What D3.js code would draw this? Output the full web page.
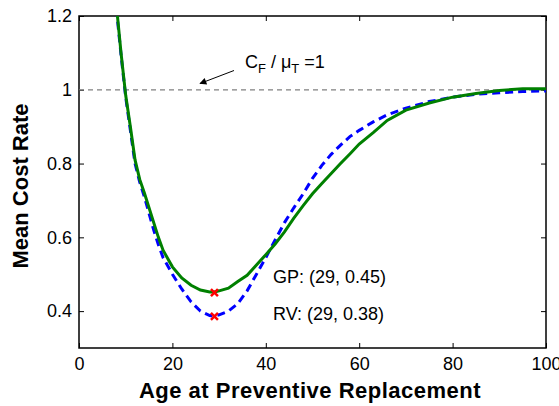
<!DOCTYPE html>
<html>
<head>
<meta charset="utf-8">
<script src="https://cdn.jsdelivr.net/npm/d3@7"></script>
<style>
    body { margin: 0; background: #fff; }
    text { font-family: "Liberation Sans", Arial, sans-serif; fill: #000; }
</style>
</head>
<body>
<div id="chart"></div>
<script>
// ages at which the mean cost rate was read
var ages = [8, 9, 10, 11, 12, 13, 14, 16, 17, 18, 20, 22, 24, 26, 28, 29, 30, 32, 34, 36, 38, 40, 42, 44, 46, 48, 50, 52, 54, 56, 58, 60, 63, 66, 70, 75, 80, 85, 90, 95, 100];

var gpValues = [1.23, 1.10, 0.985, 0.90, 0.81, 0.757, 0.72, 0.64, 0.60, 0.565, 0.52, 0.49, 0.47, 0.457, 0.452, 0.452, 0.455, 0.462, 0.48, 0.497, 0.525, 0.553, 0.582, 0.615, 0.652, 0.686, 0.718, 0.746, 0.773, 0.80, 0.826, 0.853, 0.884, 0.917, 0.945, 0.964, 0.98, 0.99, 0.998, 1.003, 1.003];

var rvValues = [1.22, 1.095, 0.98, 0.89, 0.80, 0.75, 0.71, 0.62, 0.58, 0.545, 0.50, 0.46, 0.425, 0.40, 0.388, 0.386, 0.39, 0.40, 0.42, 0.455, 0.50, 0.545, 0.593, 0.64, 0.68, 0.718, 0.76, 0.795, 0.825, 0.85, 0.873, 0.89, 0.913, 0.932, 0.95, 0.968, 0.98, 0.988, 0.992, 0.995, 0.997];

var optima = [
    { name: "GP", age: 29, value: 0.45, label: "GP: (29, 0.45)" },
    { name: "RV", age: 29, value: 0.386, label: "RV: (29, 0.38)" }
];

var xTicks = [0, 20, 40, 60, 80, 100];
var yTicks = [0.4, 0.6, 0.8, 1, 1.2];
var refLevel = 1;

var W = 559, H = 406;
var margin = { top: 16, right: 13, bottom: 58, left: 79 };
var width = W - margin.left - margin.right;
var height = H - margin.top - margin.bottom;

var svg = d3.select("#chart").append("svg")
    .attr("width", W)
    .attr("height", H)
    .append("g")
    .attr("transform", "translate(" + margin.left + "," + margin.top + ")");

var xScale = d3.scaleLinear().domain([0, 100]).range([0, width]);
var yScale = d3.scaleLinear().domain([0.3, 1.2]).range([height, 0]);

svg.append("defs").append("clipPath")
    .attr("id", "plotClip")
    .append("rect")
    .attr("width", width)
    .attr("height", height);

// axes with ticks pointing in, box on all sides
function fmt(d) { return d3.format("")(+d.toFixed(1)); }

svg.append("g")
    .attr("transform", "translate(0," + height + ")")
    .call(d3.axisBottom(xScale).tickValues(xTicks).tickSizeInner(-5).tickSizeOuter(0).tickPadding(9))
    .call(g => g.select(".domain").remove());

svg.append("g")
    .call(d3.axisTop(xScale).tickValues(xTicks).tickSizeInner(-5).tickSizeOuter(0).tickFormat(""))
    .call(g => g.select(".domain").remove());

svg.append("g")
    .call(d3.axisLeft(yScale).tickValues(yTicks).tickSizeInner(-5).tickSizeOuter(0).tickPadding(7).tickFormat(fmt))
    .call(g => g.select(".domain").remove());

svg.append("g")
    .attr("transform", "translate(" + width + ",0)")
    .call(d3.axisRight(yScale).tickValues(yTicks).tickSizeInner(-5).tickSizeOuter(0).tickFormat(""))
    .call(g => g.select(".domain").remove());

svg.selectAll(".tick text")
    .style("font-size", "18px");
svg.selectAll(".tick line")
    .attr("stroke", "#000");

svg.append("rect")
    .attr("width", width)
    .attr("height", height)
    .attr("fill", "none")
    .attr("stroke", "#000")
    .attr("stroke-width", 1.5);

// reference line C_F / mu_T = 1
svg.append("line")
    .attr("x1", 0)
    .attr("x2", width)
    .attr("y1", yScale(refLevel))
    .attr("y2", yScale(refLevel))
    .attr("stroke", "#808080")
    .attr("stroke-width", 1.2)
    .attr("stroke-dasharray", "5,4");

var line = d3.line()
    .x((d, i) => xScale(ages[i]))
    .y(d => yScale(d));

var curves = svg.append("g").attr("clip-path", "url(#plotClip)");

curves.append("path")
    .datum(rvValues)
    .attr("d", line)
    .attr("fill", "none")
    .attr("stroke", "#0000ff")
    .attr("stroke-width", 3)
    .attr("stroke-dasharray", "8,5");

curves.append("path")
    .datum(gpValues)
    .attr("d", line)
    .attr("fill", "none")
    .attr("stroke", "#008000")
    .attr("stroke-width", 3);

// red x markers at the optima
var s = 3.5;
svg.selectAll(".opt")
    .data(optima).enter()
    .append("path")
    .attr("class", "opt")
    .attr("d", d => {
        var cx = xScale(d.age), cy = yScale(d.value);
        return "M" + (cx - s) + "," + (cy - s) + "L" + (cx + s) + "," + (cy + s) +
            "M" + (cx - s) + "," + (cy + s) + "L" + (cx + s) + "," + (cy - s);
    })
    .attr("stroke", "#ff0000")
    .attr("stroke-width", 2.5);

svg.selectAll(".optLabel")
    .data(optima).enter()
    .append("text")
    .attr("class", "optLabel")
    .attr("x", 273 - margin.left)
    .attr("y", (d, i) => (i === 0 ? 283 : 320) - margin.top)
    .style("font-size", "18px")
    .text(d => d.label);

// annotation with arrow
svg.append("defs").append("marker")
    .attr("id", "arrowHead")
    .attr("viewBox", "0 0 10 10")
    .attr("refX", 9)
    .attr("refY", 5)
    .attr("markerWidth", 10)
    .attr("markerHeight", 7)
    .attr("markerUnits", "userSpaceOnUse")
    .attr("orient", "auto")
    .append("path")
    .attr("d", "M0,0L10,5L0,10z")
    .attr("fill", "#000");

svg.append("line")
    .attr("x1", 234 - margin.left)
    .attr("y1", 70.5 - margin.top)
    .attr("x2", 200 - margin.left)
    .attr("y2", 83.5 - margin.top)
    .attr("stroke", "#000")
    .attr("stroke-width", 1)
    .attr("marker-end", "url(#arrowHead)");

var ann = svg.append("text")
    .attr("x", 245 - margin.left)
    .attr("y", 68 - margin.top)
    .style("font-size", "18px");
ann.append("tspan").text("C");
ann.append("tspan").attr("dy", 5).style("font-size", "13px").text("F");
ann.append("tspan").attr("dy", -5).text(" / \u03bc");
ann.append("tspan").attr("dy", 5).style("font-size", "13px").text("T");
ann.append("tspan").attr("dy", -5).text(" =1");

// axis titles
svg.append("text")
    .attr("x", 310 - margin.left)
    .attr("y", 398 - margin.top)
    .attr("text-anchor", "middle")
    .style("font-size", "22px")
    .style("font-weight", "bold")
    .style("letter-spacing", "0.5px")
    .text("Age at Preventive Replacement");

svg.append("text")
    .attr("transform", "translate(" + (28 - margin.left) + "," + (186 - margin.top) + ") rotate(-90)")
    .attr("text-anchor", "middle")
    .style("font-size", "22px")
    .style("font-weight", "bold")
    .text("Mean Cost Rate");
</script>
</body>
</html>
